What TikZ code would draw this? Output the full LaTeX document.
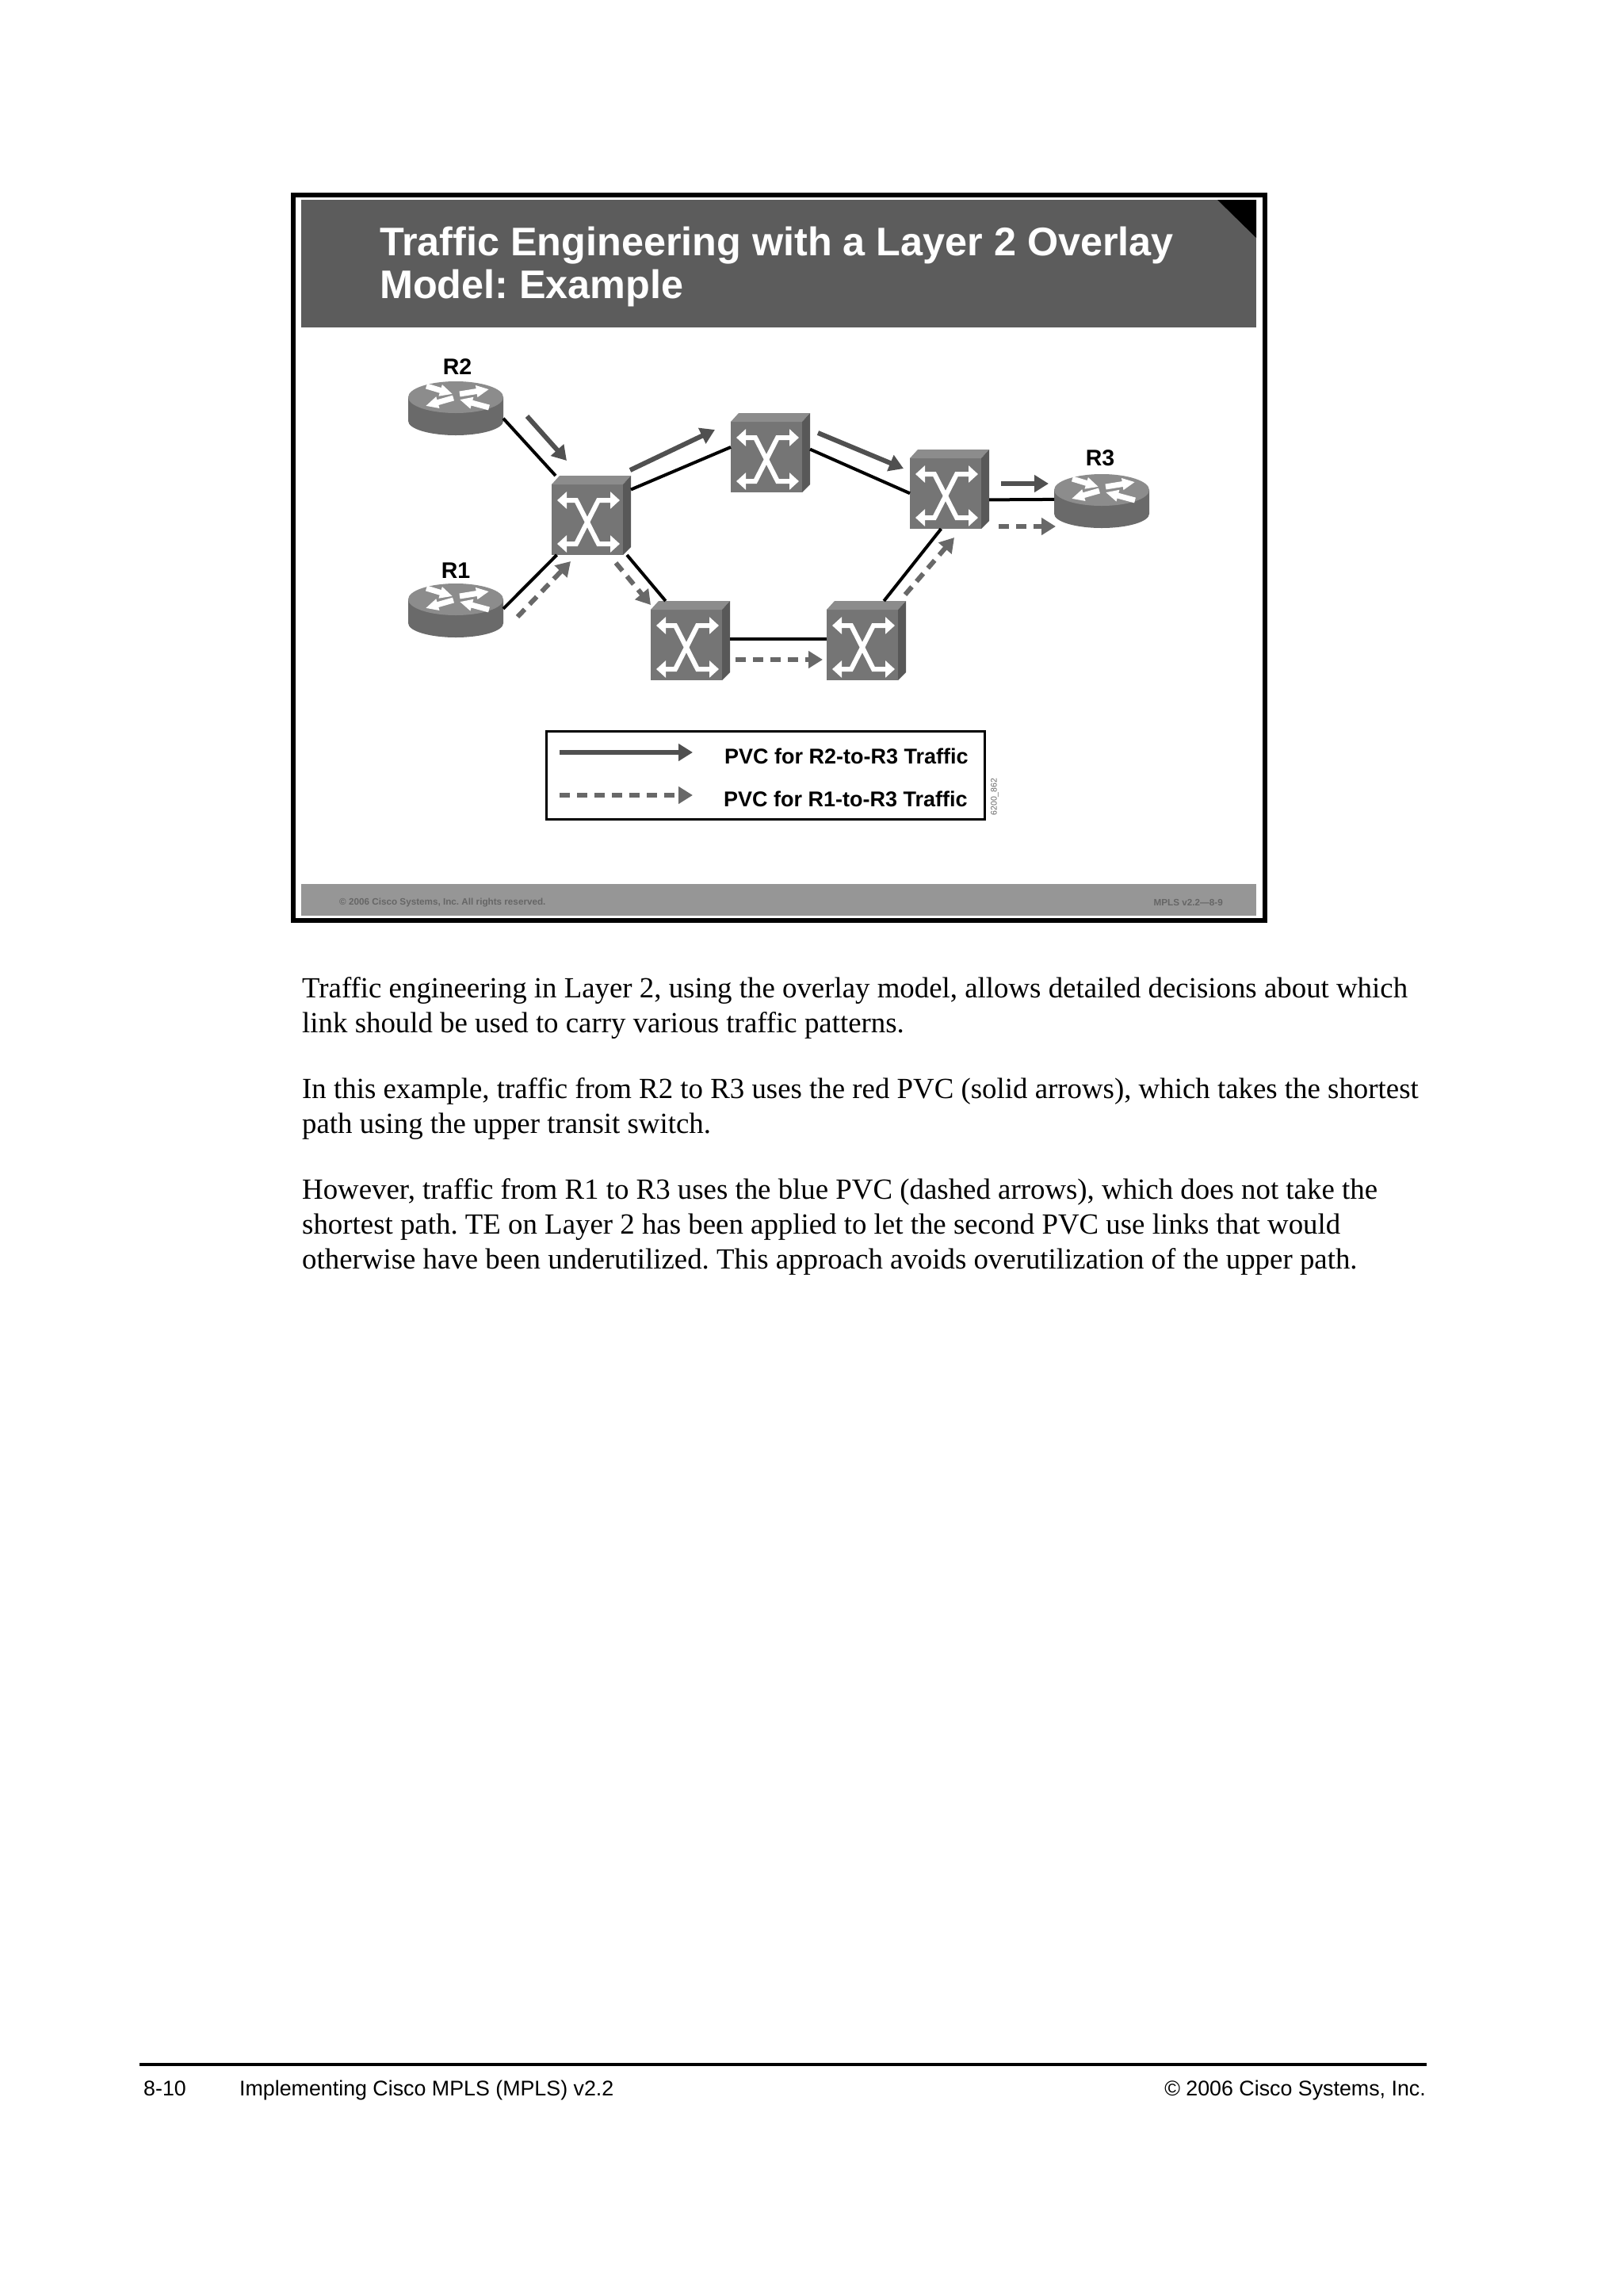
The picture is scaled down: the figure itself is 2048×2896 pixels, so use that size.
\documentclass[tikz,border=0pt]{standalone}
\usepackage{fontspec}
\setmainfont{Liberation Serif}
\setsansfont{Liberation Sans}
\usetikzlibrary{arrows.meta}
\frenchspacing
\definecolor{bandtitle}{HTML}{5C5C5C}
\definecolor{bandfoot}{HTML}{969696}
\definecolor{footink}{HTML}{666666}
\definecolor{facefront}{HTML}{757575}
\definecolor{facetop}{HTML}{8C8C8C}
\definecolor{faceside}{HTML}{585858}
\definecolor{rimside}{HTML}{6A6A6A}
\definecolor{redpvc}{HTML}{505050}
\definecolor{bluepvc}{HTML}{686868}
\tikzset{
  titletext/.style={anchor=base west,inner sep=0,white,align=left,font=\sffamily\bfseries\fontsize{50.35}{54}\selectfont},
  bodytext/.style={anchor=base west,inner sep=0,align=left,font=\fontsize{36.85}{43.6}\selectfont},
  pagetext/.style={anchor=base,inner sep=0,font=\sffamily\fontsize{26.8}{30}\selectfont},
  nametext/.style={inner sep=0,font=\sffamily\bfseries\fontsize{28.5}{30}\selectfont},
  legendtext/.style={anchor=west,inner sep=0,font=\sffamily\bfseries\fontsize{27}{30}\selectfont},
  foottext/.style={inner sep=0,footink,font=\sffamily\bfseries\fontsize{11.7}{12}\selectfont},
  link/.style={line width=4,black},
  pvcsolid/.style={line width=6,redpvc,-{Triangle[length=18,width=21]}},
  pvcdashed/.style={line width=6,bluepvc,dash pattern=on 13 off 9,-{Triangle[length=18,width=21]}},
  switchicon/.pic={
    \node (-box) [minimum width=100,minimum height=100,inner sep=0,outer sep=0] {};
    \fill[facefront] (-50,-39) rectangle (40,50);
    \fill[facetop] (-50,-39) -- (-40,-50) -- (50,-50) -- (40,-39) -- cycle;
    \fill[faceside] (40,-39) -- (50,-50) -- (50,40) -- (40,50) -- cycle;
    \draw[line width=6,white,{Triangle[length=12,width=21]}-{Triangle[length=12,width=21]}] (-43,-19) -- (-19,-19) -- (9,36) -- (36,36);
    \draw[line width=6,white,{Triangle[length=12,width=21]}-{Triangle[length=12,width=21]}] (36,-19) -- (9,-19) -- (-19,36) -- (-43,36);
  },
  routericon/.pic={
    \node (-box) [minimum width=120,minimum height=68,inner sep=0,outer sep=0] {};
    \fill[rimside] (-60,-14) -- (-60,16) arc[start angle=180,end angle=0,x radius=60,y radius=18] -- (60,-14) -- cycle;
    \fill[facetop] (0,-14) ellipse[x radius=60,y radius=20];
    \foreach \ax/\ay/\bx/\by in {-37/-28/-4/-18,5/-18/42/-24,-3/-13/-38/-3,42/-1/5/-11}
      \draw[line width=7,white,-{Triangle[length=16,width=14]}] (\ax,\ay) -- (\bx,\by);
  },
}
\begin{document}
\begin{tikzpicture}[x=1pt,y=-1pt]
  \path[use as bounding box,fill=white] (0,0) rectangle (2048,2896);
  % slide frame and bands
  \draw[line width=6] (370,246) rectangle (1595.5,1160.5);
  \fill[bandtitle] (380,252) rectangle (1585,413);
  \fill[black] (1536,252) -- (1585,252) -- (1585,300) -- cycle;
  \fill[bandfoot] (380,1115) rectangle (1585,1155);
  \node[titletext] (slidetitle) at (479,376) {Traffic Engineering with a Layer 2 Overlay\\Model: Example};
  \node[foottext,anchor=west] (slidecopy) at (428,1138) {© 2006 Cisco Systems, Inc. All rights reserved.};
  \node[foottext,anchor=east] (slideno) at (1543,1138) {MPLS v2.2—8-9};
  % routers
  \pic (rtrTwo) at (575,515) {routericon};
  \pic (rtrOne) at (575,770) {routericon};
  \pic (rtrThree) at (1390,632) {routericon};
  \node[nametext] (nameTwo) at (577,463) {R2};
  \node[nametext] (nameOne) at (575,720) {R1};
  \node[nametext] (nameThree) at (1388,578) {R3};
  % switches
  \pic (swA) at (746,650) {switchicon};
  \pic (swB) at (972,571) {switchicon};
  \pic (swC) at (1198,617) {switchicon};
  \pic (swD) at (871,808) {switchicon};
  \pic (swE) at (1093,808) {switchicon};
  % links
  \draw[link] (rtrTwo-box.-12) -- (swA-box.132);
  \draw[link] (rtrOne-box.2) -- (swA-box.229);
  \draw[link] (swA-box.33) -- (swB-box.172);
  \draw[link] (swB-box.5) -- (swC-box.186);
  \draw[link] (swA-box.-48) -- (swD-box.122);
  \draw[link] (swD-box.2) -- (swE-box.178);
  \draw[link] (swE-box.66) -- (swC-box.258);
  \draw[link] (swC-box.-15) -- (rtrThree-box.178);
  % solid flow arrows
  \coordinate (redAs) at (665,525); \coordinate (redAe) at (715,581);
  \coordinate (redBs) at (795,593); \coordinate (redBe) at (902,542);
  \coordinate (redCs) at (1032,546); \coordinate (redCe) at (1140,591);
  \coordinate (redDs) at (1263,610); \coordinate (redDe) at (1323,610);
  \draw[pvcsolid] (redAs) -- (redAe);
  \draw[pvcsolid] (redBs) -- (redBe);
  \draw[pvcsolid] (redCs) -- (redCe);
  \draw[pvcsolid] (redDs) -- (redDe);
  % dashed flow arrows
  \coordinate (blueAs) at (653,778); \coordinate (blueAe) at (720,708);
  \coordinate (blueBs) at (777,710); \coordinate (blueBe) at (821,763);
  \coordinate (blueCs) at (928,832); \coordinate (blueCe) at (1038,832);
  \coordinate (blueDs) at (1142,750); \coordinate (blueDe) at (1204,678);
  \coordinate (blueEs) at (1260,664); \coordinate (blueEe) at (1332,664);
  \draw[pvcdashed] (blueAs) -- (blueAe);
  \draw[pvcdashed] (blueBs) -- (blueBe);
  \draw[pvcdashed] (blueCs) -- (blueCe);
  \draw[pvcdashed] (blueDs) -- (blueDe);
  \draw[pvcdashed] (blueEs) -- (blueEe);
  % legend
  \draw[line width=3] (689,922) rectangle (1242,1033);
  \coordinate (keyAs) at (706,949); \coordinate (keyAe) at (874,949);
  \coordinate (keyBs) at (706,1003); \coordinate (keyBe) at (874,1003);
  \draw[pvcsolid] (keyAs) -- (keyAe);
  \draw[pvcdashed] (keyBs) -- (keyBe);
  \node[legendtext] (keyAtext) at (914,954) {PVC for R2-to-R3 Traffic};
  \node[legendtext] (keyBtext) at (913,1008) {PVC for R1-to-R3 Traffic};
  \node[foottext,rotate=90,black!60,font=\sffamily\fontsize{10.5}{12}\selectfont] (figcode) at (1255,1005) {6200\_862};
  % body text
  \node[bodytext] (paraA) at (381,1302) {Traffic engineering in Layer 2, using the overlay model, allows detailed decisions about which\\link should be used to carry various traffic patterns.};
  \node[bodytext] (paraB) at (381,1429) {In this example, traffic from R2 to R3 uses the red PVC (solid arrows), which takes the shortest\\path using the upper transit switch.};
  \node[bodytext] (paraC) at (381,1600) {However, traffic from R1 to R3 uses the blue PVC (dashed arrows), which does not take the\\shortest path. TE on Layer 2 has been applied to let the second PVC use links that would\\otherwise have been underutilized. This approach avoids overutilization of the upper path.};
  % page footer
  \draw[line width=3.5] (176,2604) -- (1800,2604);
  \node[pagetext,anchor=base west] (pageno) at (181,2643) {8-10};
  \node[pagetext,anchor=base west] (pagebook) at (302,2643) {Implementing Cisco MPLS (MPLS) v2.2};
  \node[pagetext,anchor=base east] (pagecopy) at (1799,2643) {© 2006 Cisco Systems, Inc.};
\end{tikzpicture}
\end{document}
